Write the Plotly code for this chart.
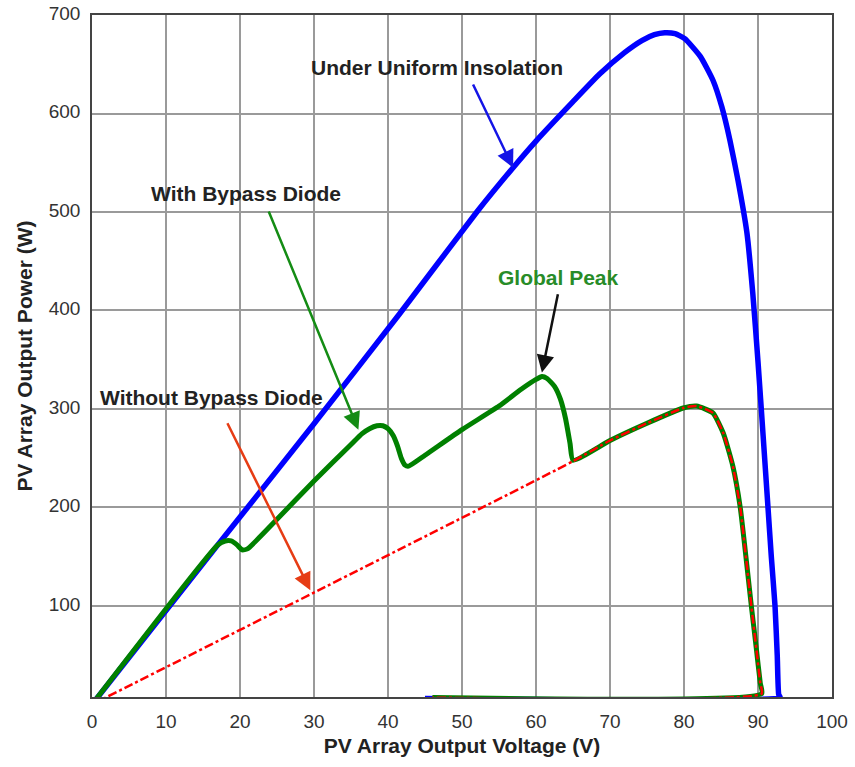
import plotly.graph_objects as go

# ---- data ----
uniform_v = [0, 17, 30, 41.6, 52, 56.9, 60, 65, 68.6, 72, 74.3, 76, 77.4, 78.8, 80.1, 82.2, 83.9, 85.1,
             86.2, 87.3, 88.5, 89.3, 90, 90.7, 91.35, 91.8, 92.3, 92.6, 92.8, 93, 45]
uniform_p = [0, 162, 285, 397, 500, 545, 572, 612, 640, 662, 674, 680, 682, 681, 676, 658, 634, 607,
             573, 532, 479, 417, 348, 272, 200, 150, 100, 50, 10, 7, 6]

bypass_v = [0, 17, 18, 18.8, 19.6, 20.3, 21, 25, 30, 35, 36.5, 37.5, 38.5, 39.3, 40, 40.7, 41.3,
            41.8, 42.3, 42.8, 45, 50, 55, 58, 60, 60.8, 61.5, 62.5, 63.3, 64, 64.6, 65,
            70, 75, 79.9, 81.7, 83.9, 85.3, 86.6, 87.6, 88.5, 89.1, 89.8, 90.3, 90.5, 46]
bypass_p = [0, 162, 166, 166, 162, 157, 158, 188, 227, 264, 275, 280, 283, 283, 280, 273, 262,
            250, 243, 242, 253, 279, 303, 320, 330, 333, 331, 323, 310, 290, 265, 248,
            268, 285.5, 301, 303, 296, 275.6, 242, 200, 141, 100, 55, 22, 11, 7]

nobypass_v = [0, 65, 70, 75, 79.9, 81.7, 83.9, 85.3, 86.6, 87.6, 88.5, 89.1, 89.8, 90.3, 90.5, 46]
nobypass_p = [0, 247, 268, 285.5, 301, 303, 296, 275.6, 242, 200, 141, 100, 55, 22, 11, 7]

x_ticks = [0, 10, 20, 30, 40, 50, 60, 70, 80, 90, 100]
y_ticks = [100, 200, 300, 400, 500, 600, 700]

FONT = "Liberation Sans, Arial, sans-serif"

fig = go.Figure()
fig.add_trace(go.Scatter(x=uniform_v, y=uniform_p, mode="lines",
                         line=dict(color="rgb(0,0,255)", width=5.5, shape="spline", smoothing=0.5),
                         name="Uniform"))
fig.add_trace(go.Scatter(x=bypass_v, y=bypass_p, mode="lines",
                         line=dict(color="rgb(0,128,0)", width=5, shape="spline", smoothing=0.5),
                         name="With Bypass Diode"))
fig.add_trace(go.Scatter(x=nobypass_v, y=nobypass_p, mode="lines",
                         line=dict(color="rgb(255,0,0)", width=2.5, dash="dashdot",
                                   shape="spline", smoothing=0.5),
                         name="Without Bypass Diode"))

texts = [
    ("<b>Under Uniform Insolation</b>", 46.6, 647, "#222"),
    ("<b>With Bypass Diode</b>", 20.8, 519, "#222"),
    ("<b>Global Peak</b>", 63.1, 433, "rgb(40,140,40)"),
    ("<b>Without Bypass Diode</b>", 16.1, 312, "#222"),
]
for t, x, y, c in texts:
    fig.add_annotation(x=x, y=y, xref="x", yref="y", text=t, showarrow=False,
                       font=dict(family=FONT, size=21, color=c))

arrows = [
    (51.4, 631, 56.9, 545, "rgb(20,20,230)"),
    (23.8, 502, 36.0, 279, "rgb(20,140,20)"),
    (63.0, 418, 60.8, 337, "#111"),
    (18.2, 287, 29.5, 116, "rgb(230,60,20)"),
]
for ax, ay, x, y, c in arrows:
    fig.add_annotation(x=x, y=y, ax=ax, ay=ay, xref="x", yref="y", axref="x", ayref="y",
                       text="", showarrow=True, arrowhead=2, arrowsize=1.4,
                       arrowwidth=2.5, arrowcolor=c)

axis_common = dict(showgrid=True, gridcolor="#9a9a9a", gridwidth=1.5,
                   showline=True, linecolor="#444", linewidth=1.5, mirror=True,
                   zeroline=False, ticks="",
                   tickfont=dict(family=FONT, size=19, color="#333"))

fig.update_xaxes(range=[0, 100], tickvals=x_ticks, ticktext=[str(v) for v in x_ticks],
                 title=dict(text="<b>PV Array Output Voltage (V)</b>", standoff=8,
                            font=dict(family=FONT, size=21, color="#222")),
                 ticklabelstandoff=6, **axis_common)
fig.update_yaxes(range=[7.6, 700], tickvals=y_ticks, ticktext=[str(v) for v in y_ticks],
                 title=dict(text="<b>PV Array Output Power (W)</b>", standoff=10,
                            font=dict(family=FONT, size=21, color="#222")),
                 ticklabelstandoff=6, ticklabelshift=-2, **axis_common)

fig.update_layout(width=855, height=767, showlegend=False,
                  plot_bgcolor="white", paper_bgcolor="white",
                  margin=dict(l=92, r=23, t=15, b=70, autoexpand=False))

fig.write_html("out.html", config={"displayModeBar": False},
               post_script="document.body.style.margin='0';")
